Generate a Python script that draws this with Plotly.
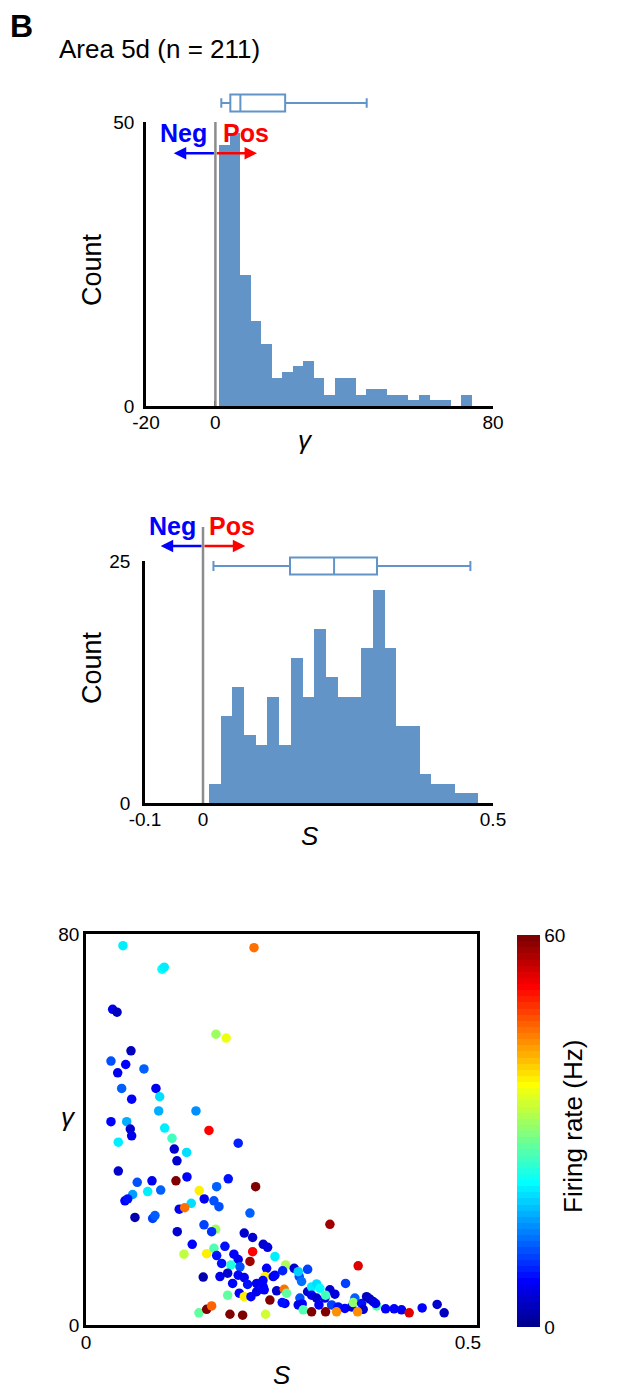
import numpy as np
import plotly.graph_objects as go

# ---------------- data ----------------
gamma_bin_start = 1.1
gamma_bin_width = 3.03
gamma_counts = [46, 48, 23, 15, 11, 5, 6, 7, 8, 5, 2, 5, 5, 2, 3, 3, 2, 2, 1, 2, 1, 1, 0, 2]

s_bin_start = 0.01
s_bin_width = 0.0202
s_counts = [2, 9, 12, 7, 6, 11, 6, 15, 11, 18, 13, 11, 11, 16, 22, 16, 8, 8, 3, 2, 2, 1, 1]

# box stats: lower whisker, q1, median, q3, upper whisker
gamma_box_stats = [1.7, 4.3, 7.2, 20.1, 43.6]
s_box_stats = [0.018, 0.150, 0.226, 0.300, 0.461]

gamma_ticks = [-20, 0, 80]
gamma_tick_labels = ["-20", "0", "80"]
s_ticks = [-0.1, 0, 0.5]
s_tick_labels = ["-0.1", "0", "0.5"]

scatter_S = [
    0.0484, 0.220, 0.0995, 0.1025, 0.0349, 0.0406, 0.1702, 0.1836, 0.0589, 0.0327,
    0.052, 0.0415, 0.0759, 0.0467, 0.0916, 0.0965, 0.0598, 0.0952, 0.144, 0.0327,
    0.0533, 0.058, 0.0598, 0.103, 0.161, 0.1126, 0.0423, 0.1993, 0.1156, 0.1318,
    0.1191, 0.0423, 0.0671, 0.0864, 0.1178, 0.1322, 0.0808, 0.0978, 0.0611, 0.051,
    0.0546, 0.1483, 0.1548, 0.1675, 0.1741, 0.1378, 0.1221, 0.1292, 0.0641, 0.0873,
    0.0903, 0.1195, 0.1545, 0.1698, 0.1645, 0.1391, 0.1283, 0.158, 0.1675, 0.1711,
    0.1535, 0.1479, 0.158, 0.1645, 0.1863, 0.1711, 0.2221, 0.2147, 0.2072, 0.2182,
    0.2321, 0.2378, 0.1819, 0.2182, 0.2474, 0.1937, 0.1993, 0.2147, 0.1776, 0.1898,
    0.2016, 0.2365, 0.2614, 0.2575, 0.2726, 0.2902, 0.1754, 0.1855, 0.1993, 0.2072,
    0.2343, 0.2452, 0.2474, 0.2792, 0.2823, 0.192, 0.2116, 0.2234, 0.2321, 0.1855,
    0.2007, 0.2072, 0.216, 0.2234, 0.2334, 0.2496, 0.2596, 0.2627, 0.2408, 0.2605,
    0.2569, 0.2801, 0.2831, 0.2779, 0.2902, 0.2954, 0.2844, 0.2954, 0.1885, 0.2051,
    0.2352, 0.3194, 0.3564, 0.3399, 0.302, 0.3063, 0.2954, 0.3194, 0.3259, 0.302,
    0.3128, 0.3137, 0.305, 0.3216, 0.3302, 0.339, 0.3478, 0.3521, 0.3499, 0.3609,
    0.363, 0.3674, 0.3717, 0.376, 0.3805, 0.3792, 0.3923, 0.4035, 0.4132, 0.4232,
    0.3137, 0.3281, 0.3556, 0.4402, 0.4598, 0.469, 0.2779, 0.2317,
]
scatter_gamma = [
    77.6, 77.2, 72.8, 73.2, 64.6, 64.0, 59.5, 58.7, 56.1, 54.0,
    53.3, 51.6, 52.4, 48.4, 48.4, 46.7, 46.2, 43.8, 43.8, 41.6,
    41.6, 40.1, 38.7, 40.3, 39.8, 38.2, 37.4, 37.2, 36.0, 35.3,
    33.6, 31.5, 29.2, 29.5, 29.5, 30.3, 27.3, 27.6, 26.7, 25.4,
    25.8, 27.5, 25.8, 25.4, 24.2, 24.9, 23.7, 24.0, 22.0, 21.8,
    22.4, 19.1, 20.5, 19.6, 19.1, 16.5, 14.5, 14.6, 15.7, 14.2,
    9.8, 2.5, 3.2, 3.9, 29.9, 28.3, 28.3, 22.9, 18.8, 17.9,
    16.5, 15.9, 16.1, 15.0, 14.0, 14.5, 13.4, 13.0, 12.6, 12.3,
    11.9, 11.6, 12.3, 11.1, 11.6, 11.4, 9.9, 10.6, 10.2, 9.7,
    9.9, 9.9, 10.2, 9.9, 8.9, 8.5, 8.3, 8.5, 7.8, 6.1,
    6.5, 5.8, 5.8, 6.8, 7.2, 7.0, 7.3, 6.5, 5.1, 4.4,
    4.6, 5.5, 4.3, 4.1, 6.8, 7.8, 3.1, 2.7, 2.2, 2.0,
    2.2, 20.6, 12.1, 8.5, 8.4, 7.5, 6.1, 7.2, 6.3, 5.5,
    5.5, 6.1, 4.1, 4.1, 3.7, 3.4, 3.7, 5.5, 4.6, 4.4,
    3.2, 5.8, 5.3, 4.8, 3.9, 4.4, 3.3, 3.3, 3.1, 2.5,
    2.7, 2.7, 2.7, 3.5, 4.2, 2.5, 10.9, 9.1,
]
scatter_rate = [
    21, 45, 22, 21, 6, 3, 31, 36, 3, 12,
    7, 6, 13, 13, 6, 20, 7, 17, 15, 7,
    17, 4, 6, 21, 52, 26, 21, 9, 4, 20,
    4, 4, 12, 6, 60, 7, 21, 13, 16, 7,
    8, 38, 6, 12, 12, 20, 6, 45, 2, 11,
    13, 4, 11, 31, 10, 7, 33, 38, 27, 8,
    2, 28, 60, 46, 8, 13, 60, 13, 4, 4,
    4, 5, 8, 52, 21, 7, 6, 58, 8, 24,
    12, 7, 32, 9, 4, 11, 6, 4, 7, 6,
    38, 6, 7, 12, 14, 7, 8, 6, 7, 28,
    7, 38, 7, 6, 7, 4, 45, 28, 60, 7,
    8, 12, 7, 6, 4, 21, 27, 60, 60, 60,
    34, 58, 54, 11, 20, 22, 6, 4, 5, 4,
    6, 26, 7, 11, 8, 7, 4, 13, 30, 8,
    4, 3, 4, 4, 27, 6, 7, 7, 6, 54,
    60, 44, 44, 7, 4, 3, 19, 7,
]

# ---------------- helpers ----------------
W, H = 618, 1389
FONT = "Liberation Sans, Arial, sans-serif"
BAR_COLOR = "#6394C8"


def fx(px):
    return px / W


def fy(py):
    return 1 - py / H


def jet(n=64):
    m = n // 4
    u = np.concatenate([np.arange(1, m + 1) / m, np.ones(m - 1), np.arange(m, 0, -1) / m])
    g = int(np.ceil(n / 8)) - (1 if n % 8 == 1 else 0) + np.arange(1, len(u) + 1)
    r = g + m
    b = g - m
    J = np.zeros((n, 3))
    for idx, col in ((r, 0), (g, 1), (b, 2)):
        mask = (idx >= 1) & (idx <= n)
        J[idx[mask] - 1, col] = u[mask]
    return J


J = jet(64)
colorscale = []
for i, c in enumerate(J):
    col = "rgb(%d,%d,%d)" % tuple(int(round(v * 255)) for v in c)
    colorscale.append([i / 64, col])
    colorscale.append([(i + 1) / 64, col])

gamma_centers = gamma_bin_start + gamma_bin_width * (np.arange(len(gamma_counts)) + 0.5)
s_centers = s_bin_start + s_bin_width * (np.arange(len(s_counts)) + 0.5)

fig = go.Figure()

fig.add_trace(go.Bar(x=gamma_centers, y=gamma_counts, width=gamma_bin_width,
                     marker=dict(color=BAR_COLOR, line=dict(width=0)),
                     xaxis="x", yaxis="y", hoverinfo="skip"))
fig.add_trace(go.Bar(x=s_centers, y=s_counts, width=s_bin_width,
                     marker=dict(color=BAR_COLOR, line=dict(width=0)),
                     xaxis="x2", yaxis="y2", hoverinfo="skip"))

for stats, xa, ya, ww in ((gamma_box_stats, "x", "y4", 0.55), (s_box_stats, "x2", "y5", 0.6)):
    fig.add_trace(go.Box(orientation="h", y=[0],
                         lowerfence=[stats[0]], q1=[stats[1]], median=[stats[2]],
                         q3=[stats[3]], upperfence=[stats[4]],
                         width=0.85, whiskerwidth=ww, fillcolor="white",
                         line=dict(color=BAR_COLOR, width=2), boxpoints=False,
                         xaxis=xa, yaxis=ya, hoverinfo="skip"))

fig.add_trace(go.Scatter(x=scatter_S, y=scatter_gamma, mode="markers",
                         xaxis="x3", yaxis="y3",
                         marker=dict(size=9.5, color=scatter_rate, colorscale=colorscale,
                                     cmin=0, cmax=60, line=dict(width=0),
                                     colorbar=dict(x=fx(517), xanchor="left", thickness=23,
                                                   lenmode="pixels", len=392,
                                                   y=fy(1131), yanchor="middle",
                                                   tickvals=[0, 60], ticks="",
                                                   outlinewidth=0, xpad=0, ypad=0,
                                                   tickfont=dict(size=19, color="black", family=FONT))),
                         hoverinfo="skip"))

axis_common = dict(showline=True, linecolor="black", linewidth=2.5, showgrid=False,
                   zeroline=False, tickfont=dict(size=19, color="black", family=FONT))
hist_ticks = dict(ticks="inside", ticklen=5, tickwidth=2, tickcolor="black")

fig.update_layout(
    width=W, height=H, margin=dict(l=0, r=0, t=0, b=0, pad=0, autoexpand=False),
    plot_bgcolor="white", paper_bgcolor="white", showlegend=False, bargap=0,
    font=dict(family=FONT, color="black"),
    xaxis=dict(domain=[fx(146), fx(493)], range=[-20, 80], anchor="y",
               tickvals=gamma_ticks, ticktext=gamma_tick_labels, ticklabelstandoff=-3,
               **axis_common, **hist_ticks),
    yaxis=dict(domain=[fy(406), fy(122)], range=[0, 50], anchor="x",
               tickvals=[0, 50], ticklabelstandoff=5, **axis_common, **hist_ticks),
    xaxis2=dict(domain=[fx(145), fx(493)], range=[-0.1, 0.5], anchor="y2",
                tickvals=s_ticks, ticktext=s_tick_labels, ticklabelstandoff=-3,
                **axis_common, **hist_ticks),
    yaxis2=dict(domain=[fy(803), fy(561)], range=[0, 25], anchor="x2",
                tickvals=[0, 25], ticklabelstandoff=8, **axis_common, **hist_ticks),
    xaxis3=dict(domain=[fx(86), fx(477)], range=[0, 0.512], anchor="y3",
                tickvals=[0, 0.5], ticktext=["0", "0.5"], mirror=True, ticks="",
                ticklabelstandoff=-2, **axis_common),
    yaxis3=dict(domain=[fy(1325), fy(934)], range=[0, 80], anchor="x3",
                tickvals=[0, 80], mirror=True, ticks="", ticklabelstandoff=0, **axis_common),
    yaxis4=dict(domain=[fy(113), fy(93)], range=[-0.5, 0.5], anchor="x", visible=False),
    yaxis5=dict(domain=[fy(576), fy(556)], range=[-0.5, 0.5], anchor="x2", visible=False),
)

# zero lines
fig.add_shape(type="line", xref="x", yref="y", x0=0, x1=0, y0=0, y1=50,
              line=dict(color="#8c8c8c", width=2.5))
fig.add_shape(type="line", xref="x2", yref="paper", x0=0, x1=0, y0=fy(803), y1=fy(527),
              line=dict(color="#8c8c8c", width=2.5))

ann = []


def text(px, py, s, size, xanchor="center", angle=0, color="black"):
    ann.append(dict(x=fx(px), y=fy(py), xref="paper", yref="paper", text=s, showarrow=False,
                    xanchor=xanchor, yanchor="middle", textangle=angle,
                    font=dict(size=size, color=color, family=FONT)))


text(8, 26, "<b>B</b>", 32, "left")
text(57, 49, "Area 5d (n = 211)", 26, "left")
text(92, 270, "Count", 27, angle=-90)
text(92, 668, "Count", 27, angle=-90)
text(305, 440, "<i>γ</i>", 26)
text(310, 836, "<i>S</i>", 26)
text(68, 1117, "<i>γ</i>", 26)
text(282, 1375, "<i>S</i>", 26)
text(573, 1127, "Firing rate (Hz)", 26, angle=-90)

# Neg / Pos labels
text(209, 133, "<b>Neg</b>", 25, "right", color="blue")
text(221, 133, "<b>Pos</b>", 25, "left", color="red")
text(198, 526, "<b>Neg</b>", 25, "right", color="blue")
text(207, 526, "<b>Pos</b>", 25, "left", color="red")

# arrows
for xr, ypx, lim in (("x", 153.3, 12), ("x2", 546, 0.073)):
    for head, col in ((-lim, "blue"), (lim, "red")):
        ann.append(dict(x=head, y=fy(ypx), xref=xr, yref="paper", ax=0, ay=0,
                        axref=xr, ayref="pixel", text="", showarrow=True,
                        arrowhead=2, arrowsize=1, arrowwidth=2.5, arrowcolor=col,
                        standoff=0, startstandoff=0))

fig.update_layout(annotations=ann)

fig.write_html("out.html")
